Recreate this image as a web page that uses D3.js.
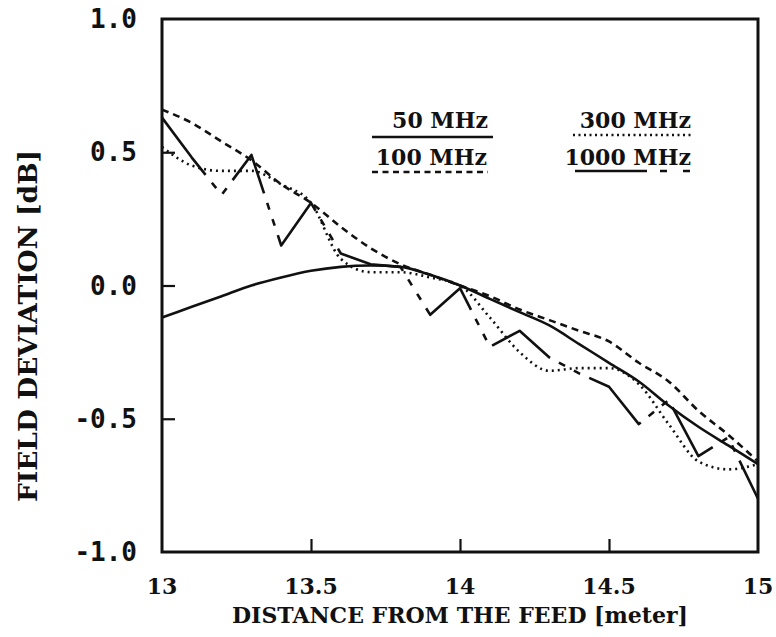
<!DOCTYPE html>
<html>
<head>
<meta charset="utf-8">
<script src="https://cdn.jsdelivr.net/npm/d3@7"></script>
<style>
  html, body { margin: 0; padding: 0; background: #fff; }
  svg { display: block; }
  .serif { font-family: "DejaVu Serif", serif; font-weight: bold; }
  .mono { font-family: "DejaVu Sans Mono", monospace; font-weight: bold; }
</style>
</head>
<body>
<div class="svg_container"></div>
<script>
// Chart values
var distances = [13.0, 13.1, 13.2, 13.3, 13.4, 13.5, 13.6, 13.7, 13.8, 13.9, 14.0,
                 14.1, 14.2, 14.3, 14.4, 14.5, 14.6, 14.7, 14.8, 14.9, 15.0];
var dev50   = [-0.12, -0.08, -0.04, 0.00, 0.03, 0.055, 0.07, 0.075, 0.07, 0.04, 0.00,
               -0.05, -0.10, -0.15, -0.22, -0.29, -0.36, -0.45, -0.53, -0.60, -0.67];
var dev100  = [0.66, 0.61, 0.54, 0.47, 0.38, 0.31, 0.22, 0.14, 0.08, 0.04, 0.00,
               -0.04, -0.09, -0.13, -0.17, -0.21, -0.29, -0.36, -0.47, -0.56, -0.66];
var dev300  = [0.52, 0.45, 0.43, 0.43, 0.38, 0.31, 0.10, 0.05, 0.05, 0.03, 0.00,
               -0.12, -0.25, -0.32, -0.31, -0.31, -0.37, -0.52, -0.66, -0.69, -0.67];
var dev1000 = [0.63, 0.48, 0.34, 0.49, 0.15, 0.31, 0.12, 0.08, 0.07, -0.11, -0.01,
               -0.23, -0.17, -0.27, -0.33, -0.38, -0.52, -0.43, -0.64, -0.57, -0.80];

var seriesNames = ["50 MHz", "100 MHz", "300 MHz", "1000 MHz"];
var xTicks = [13, 13.5, 14, 14.5, 15];
var xTickLabels = ["13", "13.5", "14", "14.5", "15"];
var yTicks = [1.0, 0.5, 0.0, -0.5, -1.0];
var yTickLabels = ["1.0", "0.5", "0.0", "-0.5", "-1.0"];

var W = 776, H = 637;
// plot box (note: "top" is a reserved window global, so use a prefix)
var pLeft = 162, pRight = 758, pTop = 19, pBottom = 552;

var svg = d3.select("div.svg_container")
    .append("svg")
        .attr("width", W)
        .attr("height", H);

var x = d3.scaleLinear().domain([13, 15]).range([pLeft, pRight]);
var y = d3.scaleLinear().domain([-1, 1]).range([pBottom, pTop]);

// line styles per series
var styles = [
    { values: dev50,   dash: null,              curve: d3.curveMonotoneX },
    { values: dev100,  dash: "7,5",             curve: d3.curveMonotoneX },
    { values: dev300,  dash: "2,4",             curve: d3.curveMonotoneX },
    { values: dev1000, dash: "72,10,7,10,7,10", curve: d3.curveLinear }
];

styles.forEach(function(s) {
    var pts = distances.map(function(d, i) { return [d, s.values[i]]; });
    var line = d3.line()
        .x(function(p) { return x(p[0]); })
        .y(function(p) { return y(p[1]); })
        .curve(s.curve);
    svg.append("path")
        .datum(pts)
        .attr("d", line)
        .attr("fill", "none")
        .attr("stroke", "#111")
        .attr("stroke-width", 2.6)
        .attr("stroke-linejoin", "round")
        .attr("stroke-dasharray", s.dash);
});

// Frame
svg.append("rect")
    .attr("x", pLeft).attr("y", pTop)
    .attr("width", pRight - pLeft).attr("height", pBottom - pTop)
    .attr("fill", "none")
    .attr("stroke", "#111")
    .attr("stroke-width", 3);

// Inward ticks
var xAxis = d3.axisTop(x).tickValues(xTicks.slice(1, -1)).tickSize(13).tickFormat("");
svg.append("g")
    .attr("transform", "translate(0," + pBottom + ")")
    .call(xAxis)
    .call(function(g) { g.select(".domain").remove(); })
    .selectAll("line").attr("stroke", "#111").attr("stroke-width", 2.2);

var yAxis = d3.axisRight(y).tickValues(yTicks.slice(1, -1)).tickSize(13).tickFormat("");
svg.append("g")
    .attr("transform", "translate(" + pLeft + ",0)")
    .call(yAxis)
    .call(function(g) { g.select(".domain").remove(); })
    .selectAll("line").attr("stroke", "#111").attr("stroke-width", 2.2);

// Tick labels
svg.selectAll("text.xt")
    .data(xTicks)
    .enter()
    .append("text")
        .attr("class", "xt serif")
        .attr("x", function(d) { return x(d); })
        .attr("y", 594)
        .attr("text-anchor", "middle")
        .style("font-size", "22px")
        .attr("fill", "#111")
        .text(function(d, i) { return xTickLabels[i]; });

svg.selectAll("text.yt")
    .data(yTicks)
    .enter()
    .append("text")
        .attr("class", "yt mono")
        .attr("x", 137)
        .attr("y", function(d) { return y(d) + 9; })
        .attr("text-anchor", "end")
        .style("font-size", "26px")
        .attr("fill", "#111")
        .text(function(d, i) { return yTickLabels[i]; });

// Axis titles
svg.append("text")
    .attr("class", "serif")
    .attr("x", 460)
    .attr("y", 623)
    .attr("text-anchor", "middle")
    .style("font-size", "22px")
    .attr("fill", "#111")
    .text("DISTANCE FROM THE FEED [meter]");

svg.append("text")
    .attr("class", "serif")
    .attr("transform", "translate(37,326) rotate(-90)")
    .attr("text-anchor", "middle")
    .style("font-size", "26.5px")
    .attr("fill", "#111")
    .text("FIELD DEVIATION [dB]");

// Legend
var legendPos = [
    { tx: 488, ty: 128, x1: 372, x2: 493, ly: 137 },
    { tx: 487, ty: 165, x1: 372, x2: 488, ly: 172 },
    { tx: 691, ty: 128, x1: 573, x2: 692, ly: 135 },
    { tx: 691, ty: 165, x1: 575, x2: 690, ly: 171 }
];
var legendDash = [null, "6,4.5", "2,3.5", "72,13,7,16,7,30"];

seriesNames.forEach(function(name, i) {
    var p = legendPos[i];
    svg.append("text")
        .attr("class", "serif")
        .attr("x", p.tx)
        .attr("y", p.ty)
        .attr("text-anchor", "end")
        .style("font-size", "22px")
        .attr("fill", "#111")
        .text(name);
    svg.append("line")
        .attr("x1", p.x1).attr("x2", p.x2)
        .attr("y1", p.ly).attr("y2", p.ly)
        .attr("stroke", "#111")
        .attr("stroke-width", 2.4)
        .attr("stroke-dasharray", legendDash[i]);
});
</script>
</body>
</html>
